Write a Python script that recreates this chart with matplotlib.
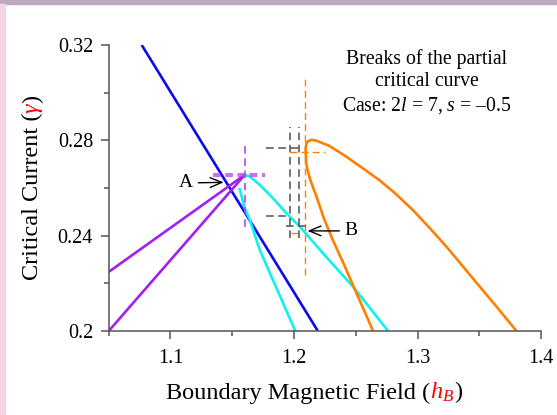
import numpy as np
import matplotlib
matplotlib.use("Agg")
import matplotlib.pyplot as plt
from matplotlib.patches import Rectangle
from matplotlib.transforms import IdentityTransform

plt.rcParams['font.family'] = ['Liberation Serif', 'DejaVu Serif']
plt.rcParams['mathtext.fontset'] = 'custom'
plt.rcParams['mathtext.rm'] = 'Liberation Serif'
plt.rcParams['mathtext.it'] = 'Liberation Serif:italic'

# ---- curves ----
blue_x = [1.0767, 1.2193]
blue_y = [0.32, 0.2]

purple_up_x = [1.05, 1.1601]
purple_up_y = [0.2248, 0.2655]
purple_lo_x = [1.05, 1.1601]
purple_lo_y = [0.2, 0.2655]

cyan_steep_x = [1.1561, 1.1601, 1.1642, 1.1723, 1.2011]
cyan_steep_y = [0.2595, 0.2515, 0.2466, 0.2340, 0.2]
cyan_wide_x = [1.1601, 1.1642, 1.1723, 1.1830, 1.1939, 1.2047, 1.2235, 1.2478, 1.2762]
cyan_wide_y = [0.2655, 0.2648, 0.2613, 0.2557, 0.2494, 0.2438, 0.2326, 0.2186, 0.2]

orange_x = [1.264, 1.2573, 1.2506, 1.2411, 1.2314, 1.2241, 1.2182, 1.2136, 1.2111,
            1.2099, 1.2095, 1.2095, 1.2101, 1.2113, 1.2141, 1.2176, 1.2233, 1.2289,
            1.2425, 1.2532, 1.2694, 1.2816, 1.2962, 1.3099, 1.3234, 1.3366, 1.3504,
            1.3642, 1.3801]
orange_y = [0.2, 0.2080, 0.2158, 0.2272, 0.2382, 0.2474, 0.2564, 0.2628, 0.2672,
            0.2705, 0.2747, 0.2768, 0.2788, 0.2796, 0.2802, 0.2799, 0.2788, 0.2776,
            0.2731, 0.2692, 0.2632, 0.2579, 0.2508, 0.2432, 0.2354, 0.2272, 0.2186,
            0.2101, 0.2]

# break markers (dashed guides)
purple_h = [(1.1342, 1.1763, 0.2658), (1.1342, 1.1763, 0.2651)]
purple_v = [(1.1601, 0.2436, 0.2789)]
orange_h = [(1.1966, 1.2249, 0.2752), (1.1979, 1.2047, 0.2413)]
orange_v = [(1.2087, 0.2235, 0.3066)]
gray_h = [(1.1777, 1.2047, 0.2769), (1.1777, 1.1971, 0.2483), (1.1933, 1.2101, 0.2441)]
gray_v = [(1.1971, 0.2389, 0.2857), (1.2041, 0.2389, 0.2857)]

xticks = [1.1, 1.2, 1.3, 1.4]
xtick_labels = ['1.1', '1.2', '1.3', '1.4']
xminor = [1.05, 1.15, 1.25, 1.35]
yticks = [0.2, 0.24, 0.28, 0.32]
ytick_labels = ['0.2', '0.24', '0.28', '0.32']
yminor = [0.22, 0.26, 0.30]

fig = plt.figure(figsize=(5.57, 4.15), dpi=100)
ax = fig.add_axes([0.1952, 0.2024, 0.7761, 0.6892])

# slide frame
fig.patches.append(Rectangle((0, 411 / 415), 1, 4 / 415, transform=fig.transFigure,
                             color='#bfa9c2', zorder=0))
fig.patches.append(Rectangle((0, 0), 5 / 557, 411 / 415, transform=fig.transFigure,
                             color='#f2d4e2', zorder=0))

lw = 1.9
ax.plot(blue_x, blue_y, color='#0a0af0', lw=lw, solid_capstyle='butt')
ax.plot(purple_up_x, purple_up_y, color='#a020f0', lw=lw)
ax.plot(purple_lo_x, purple_lo_y, color='#a020f0', lw=lw)
ax.plot(cyan_steep_x, cyan_steep_y, color='#10f0f0', lw=lw)
ax.plot(cyan_wide_x, cyan_wide_y, color='#10f0f0', lw=lw)
ax.plot(orange_x, orange_y, color='#ff8000', lw=lw)

dash = (0, (5, 3))
for x0, x1, y in purple_h:
    ax.plot([x0, x1], [y, y], color='#c040f0', lw=1.1, ls=dash)
for x, y0, y1 in purple_v:
    ax.plot([x, x], [y0, y1], color='#a040f0', lw=1.1, ls=dash)
for x0, x1, y in orange_h:
    ax.plot([x0, x1], [y, y], color='#ff8000', lw=1.0, ls=dash)
for x, y0, y1 in orange_v:
    ax.plot([x, x], [y0, y1], color='#ff8000', lw=1.0, ls=dash)
for x0, x1, y in gray_h:
    ax.plot([x0, x1], [y, y], color='#505050', lw=1.1, ls=dash)
for x, y0, y1 in gray_v:
    ax.plot([x, x], [y0, y1], color='#505050', lw=1.1, ls=dash)

arrow = dict(arrowstyle='->,head_length=0.6,head_width=0.25', color='black', lw=1.0)
ax.annotate('A', xy=(1.1453, 0.2624), xytext=(1.1123, 0.2621), fontsize=14,
            ha='center', va='center', arrowprops=arrow)
ax.annotate('B', xy=(1.2087, 0.2420), xytext=(1.2465, 0.2420), fontsize=14,
            ha='center', va='center', arrowprops=arrow)

ax.text(1.3075, 0.3043, 'Breaks of the partial\ncritical curve\nCase: 2$l$ = 7, $s$ = \u20130.5',
        fontsize=14.2, ha='center', va='center', linespacing=1.22)

ax.set_xlim(1.05, 1.4)
ax.set_ylim(0.2, 0.32)
ax.set_xticks(xticks)
ax.set_xticklabels(xtick_labels)
ax.set_xticks(xminor, minor=True)
ax.set_yticks(yticks)
ax.set_yticklabels(ytick_labels)
ax.set_yticks(yminor, minor=True)
for s in ['top', 'right']:
    ax.spines[s].set_visible(False)
for s in ['left', 'bottom']:
    ax.spines[s].set_color('#555555')
    ax.spines[s].set_linewidth(1.1)
ax.tick_params(which='major', length=5.8, width=1.1, color='#555555', labelsize=14.5)
ax.tick_params(which='minor', length=3.4, width=1.1, color='#555555')
ax.tick_params(axis='y', which='major', pad=5.5)
ax.tick_params(axis='x', which='major', pad=7.5)

# multi-colour axis labels
renderer = fig.canvas.get_renderer()
lab_fs = 17.5

xparts = [('Boundary Magnetic Field (', 'black', 'normal'), ('$h_B$', 'red', 'normal'),
          (')', 'black', 'normal')]
texts = []
for s, c, st in xparts:
    t = fig.text(0, 0, s, color=c, fontsize=lab_fs, style=st, ha='left', va='baseline',
                 transform=IdentityTransform())
    texts.append(t)
widths = [t.get_window_extent(renderer).width for t in texts]
x = 314 - sum(widths) / 2
for t, w in zip(texts, widths):
    t.set_position((x, 16.5))
    x += w

yparts = [('Critical Current (', 'black', 'normal'), ('\u03b3', 'red', 'italic'),
          (')', 'black', 'normal')]
texts = []
for s, c, st in yparts:
    t = fig.text(0, 0, s, color=c, fontsize=lab_fs, style=st, ha='left', va='baseline',
                 rotation=90, rotation_mode='anchor', transform=IdentityTransform())
    texts.append(t)
heights = [t.get_window_extent(renderer).height for t in texts]
y = 227.5 - sum(heights) / 2
for t, h in zip(texts, heights):
    t.set_position((38, y))
    y += h

fig.savefig('out.png', dpi=100)
